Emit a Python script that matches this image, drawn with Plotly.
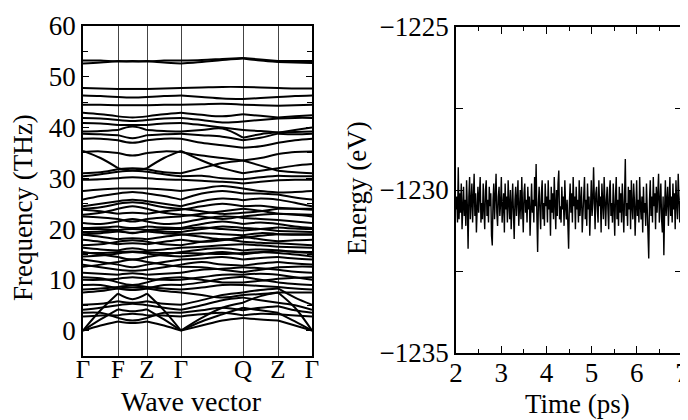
import numpy as np
import plotly.graph_objects as go

# ---------------- data ----------------
kpath_labels = ["Γ", "F", "Z", "Γ", "Q", "Z", "Γ"]
kpath_pos = [0, 35, 64, 98, 160, 195, 229]
# sampled k positions along the path (high-symmetry points + intermediate points)
k_samples = [0, 17.5, 35, 49.5, 64, 81, 98, 118.7, 139.3, 160, 177.5, 195, 212, 229]
# index ranges of path segments inside k_samples
segments = [(0, 2), (2, 4), (4, 6), (6, 9), (9, 11), (11, 13)]

acoustic_bands = [
    [0, 4.0, 7.3, 6.2, 7.3, 4.0, 0, 2.5, 4.5, 5.5, 6.8, 7.5, 4.5, 0],
    [0, 2.2, 4.2, 3.8, 4.2, 2.2, 0, 1.8, 3.2, 4.5, 4.0, 3.5, 1.8, 0],
    [0, 1.0, 1.8, 1.5, 1.8, 1.0, 0, 1.0, 2.0, 2.5, 2.2, 2.0, 1.0, 0],
]

optical_low = [
    [2.8, 3.0, 3.0, 3.3, 3.0, 3.0, 2.8, 3.2, 3.5, 3.0, 3.3, 3.2, 3.0, 2.8],
    [3.5, 3.5, 2.5, 2.0, 2.5, 3.5, 3.5, 4.0, 4.5, 4.0, 4.5, 4.8, 4.0, 3.5],
    [4.1, 4.5, 5.0, 5.3, 5.0, 4.5, 4.1, 5.0, 6.0, 6.5, 6.0, 5.5, 5.0, 4.1],
    [5.1, 5.3, 5.8, 5.5, 5.8, 5.3, 5.1, 6.0, 7.0, 7.5, 8.0, 8.3, 6.5, 5.1],
    [7.5, 7.8, 8.3, 8.5, 8.3, 7.8, 7.5, 7.0, 6.5, 7.0, 7.2, 7.5, 7.5, 7.5],
    [8.1, 8.3, 8.6, 8.9, 8.6, 8.3, 8.1, 8.5, 9.0, 9.0, 8.8, 8.6, 8.3, 8.1],
    [9.0, 9.0, 8.3, 8.0, 8.3, 9.0, 9.0, 9.5, 10.2, 10.6, 10.0, 9.5, 9.2, 9.0],
    [10.0, 10.0, 10.2, 10.5, 10.2, 10.0, 10.0, 10.5, 11.0, 11.0, 11.2, 11.0, 10.5, 10.0],
    [10.5, 10.3, 9.5, 9.0, 9.5, 10.3, 10.5, 10.0, 9.5, 9.5, 9.8, 10.2, 10.4, 10.5],
    [11.4, 11.2, 11.0, 11.3, 11.0, 11.2, 11.4, 12.0, 12.2, 12.5, 12.3, 12.0, 11.6, 11.4],
    [12.6, 13.0, 13.5, 14.0, 13.5, 13.0, 12.6, 12.5, 12.0, 11.5, 12.0, 12.5, 12.6, 12.6],
    [13.0, 12.5, 12.0, 11.8, 12.0, 12.5, 13.0, 13.5, 13.0, 12.8, 13.2, 13.5, 13.2, 13.0],
    [14.0, 13.5, 13.0, 12.5, 13.0, 13.5, 14.0, 14.2, 14.5, 14.0, 14.3, 14.5, 14.2, 14.0],
]

optical_mid = [
    [14.6, 14.8, 15.2, 15.5, 15.2, 14.8, 14.6, 15.0, 15.5, 15.0, 15.4, 15.3, 15.0, 14.6],
    [15.3, 15.3, 15.5, 15.6, 15.5, 15.3, 15.3, 15.2, 15.1, 15.3, 15.5, 15.8, 15.5, 15.3],
    [15.5, 15.0, 14.5, 14.0, 14.5, 15.0, 15.5, 16.0, 16.2, 15.8, 16.0, 15.8, 15.6, 15.5],
    [16.3, 16.0, 15.8, 16.2, 15.8, 16.0, 16.3, 16.5, 16.8, 17.0, 16.8, 16.5, 16.4, 16.3],
    [16.8, 17.0, 17.5, 17.8, 17.5, 17.0, 16.8, 17.5, 18.0, 17.5, 17.3, 17.2, 17.0, 16.8],
    [17.9, 17.5, 17.0, 17.2, 17.0, 17.5, 17.9, 17.5, 17.8, 18.5, 18.0, 17.6, 17.8, 17.9],
    [18.9, 18.5, 18.0, 18.2, 18.0, 18.5, 18.9, 19.2, 19.0, 18.8, 19.2, 19.0, 18.9, 18.9],
    [19.0, 19.2, 19.5, 19.3, 19.5, 19.2, 19.0, 18.5, 18.0, 18.3, 18.7, 19.0, 19.0, 19.0],
    [19.4, 19.5, 19.8, 20.0, 19.8, 19.5, 19.4, 20.0, 20.5, 20.2, 20.0, 19.6, 19.5, 19.4],
    [20.0, 20.0, 19.8, 19.2, 19.8, 20.0, 20.0, 20.3, 20.0, 19.7, 20.0, 20.3, 20.1, 20.0],
    [20.2, 20.3, 20.5, 20.2, 20.5, 20.3, 20.2, 21.0, 21.5, 21.0, 21.3, 21.0, 20.5, 20.2],
    [21.2, 21.0, 21.5, 22.0, 21.5, 21.0, 21.2, 22.0, 22.5, 22.2, 22.0, 21.8, 21.5, 21.2],
    [22.5, 22.3, 22.0, 21.5, 22.0, 22.3, 22.5, 23.0, 23.5, 24.0, 23.6, 23.0, 22.8, 22.5],
    [22.8, 23.2, 24.0, 24.5, 24.0, 23.2, 22.8, 22.5, 22.0, 22.5, 22.8, 23.0, 22.9, 22.8],
    [23.8, 23.5, 23.0, 23.2, 23.0, 23.5, 23.8, 24.5, 25.0, 24.5, 24.6, 24.2, 24.0, 23.8],
    [24.0, 24.3, 25.0, 25.3, 25.0, 24.3, 24.0, 23.5, 23.0, 23.2, 23.5, 24.0, 24.0, 24.0],
    [24.5, 25.0, 25.5, 25.8, 25.5, 25.0, 24.5, 25.5, 26.0, 25.7, 26.0, 25.8, 25.2, 24.5],
    [25.8, 26.5, 27.0, 27.3, 27.0, 26.5, 25.8, 27.0, 27.5, 27.0, 27.0, 26.8, 26.2, 25.8],
    [27.5, 27.8, 28.0, 28.0, 28.0, 27.8, 27.5, 28.0, 28.5, 28.0, 27.5, 27.2, 27.3, 27.5],
]

optical_high = [
    [29.7, 29.8, 30.0, 30.2, 30.0, 29.8, 29.7, 29.5, 29.3, 29.0, 29.3, 29.6, 29.7, 29.7],
    [30.4, 30.8, 31.3, 31.5, 31.3, 30.8, 30.4, 30.5, 30.0, 29.8, 30.2, 30.5, 30.4, 30.4],
    [31.0, 31.2, 31.8, 32.0, 31.8, 31.2, 31.0, 32.0, 33.0, 33.5, 32.5, 31.5, 31.2, 31.0],
    [35.4, 34.0, 32.0, 31.6, 32.0, 34.0, 35.4, 33.5, 32.0, 31.0, 31.5, 32.0, 32.5, 32.8],
    [35.2, 35.3, 35.0, 34.5, 35.0, 35.3, 35.2, 34.5, 34.0, 33.5, 34.0, 34.8, 35.2, 35.3],
    [37.8, 37.8, 37.5, 37.0, 37.5, 37.8, 37.8, 37.0, 36.5, 36.0, 36.3, 37.0, 37.5, 37.8],
    [38.8, 38.7, 38.5, 37.9, 38.5, 38.7, 38.8, 38.5, 38.2, 37.5, 38.0, 38.8, 38.7, 38.8],
    [39.2, 39.3, 39.5, 40.2, 39.5, 39.3, 39.2, 39.5, 39.8, 38.0, 38.7, 39.0, 39.1, 39.2],
    [40.9, 40.8, 40.5, 40.5, 40.5, 40.8, 40.9, 40.5, 40.0, 39.5, 39.3, 39.0, 39.5, 40.0],
    [41.9, 41.8, 41.5, 41.3, 41.5, 41.8, 41.9, 41.5, 41.0, 41.2, 41.5, 41.8, 41.9, 41.9],
    [42.9, 42.6, 42.2, 42.0, 42.2, 42.6, 42.9, 42.5, 42.2, 42.6, 42.3, 42.0, 42.2, 42.4],
    [44.5, 44.5, 44.4, 44.4, 44.4, 44.5, 44.5, 44.6, 44.7, 44.5, 44.4, 44.3, 44.4, 44.5],
    [46.3, 46.2, 46.0, 45.9, 46.0, 46.2, 46.3, 46.0, 45.7, 45.6, 45.8, 46.0, 46.2, 46.3],
    [47.8, 47.7, 47.6, 47.6, 47.6, 47.7, 47.8, 47.9, 48.0, 48.0, 47.9, 47.8, 47.7, 47.7],
    [52.6, 52.8, 53.1, 53.0, 53.1, 52.8, 52.6, 52.9, 53.3, 53.6, 53.2, 52.9, 52.8, 52.7],
    [53.2, 53.2, 53.0, 53.1, 53.0, 53.2, 53.2, 53.3, 53.5, 53.7, 53.4, 53.1, 53.1, 53.1],
]

time_start, time_end = 2.0, 7.0
energy = [
    -1230.6, -1230.2, -1231.0, -1229.3, -1230.9, -1230.1, -1230.7, -1229.8, -1231.2, -1230.4,
    -1229.9, -1230.8, -1230.3, -1231.1, -1229.7, -1230.5, -1231.8, -1230.2, -1229.6, -1230.9,
    -1230.4, -1229.8, -1231.0, -1230.3, -1229.5, -1230.8, -1230.1, -1231.3, -1230.5, -1229.9,
    -1230.7, -1230.2, -1229.6, -1231.0, -1230.4, -1230.9, -1229.8, -1230.6, -1231.2, -1230.0,
    -1229.7, -1230.8, -1230.3, -1231.0, -1229.9, -1230.5, -1230.1, -1231.4, -1231.7, -1230.3,
    -1229.8, -1230.9, -1230.4, -1229.5, -1230.7, -1231.1, -1230.2, -1229.9, -1230.8, -1230.4,
    -1229.6, -1231.0, -1230.5, -1230.1, -1231.3, -1229.8, -1230.6, -1230.2, -1231.0, -1229.7,
    -1230.4, -1230.9, -1230.0, -1231.2, -1230.5, -1229.8, -1230.7, -1231.5, -1230.3, -1229.9,
    -1230.8, -1230.2, -1229.7, -1231.1, -1230.4, -1230.0, -1230.9, -1229.6, -1230.5, -1231.3,
    -1230.1, -1229.8, -1230.7, -1230.3, -1231.0, -1229.9, -1230.6, -1230.2, -1231.4, -1230.0,
    -1229.8, -1230.7, -1230.3, -1231.0, -1229.6, -1230.5, -1229.2, -1230.8, -1231.9, -1230.4,
    -1229.9, -1230.6, -1231.2, -1230.1, -1229.7, -1230.9, -1230.4, -1231.1, -1229.8, -1230.5,
    -1230.2, -1231.0, -1229.7, -1230.6, -1230.3, -1231.4, -1229.9, -1230.7, -1230.1, -1230.9,
    -1229.6, -1230.4, -1231.2, -1230.0, -1230.8, -1229.8, -1229.4, -1230.9, -1230.5, -1231.0,
    -1229.9, -1230.6, -1230.2, -1231.1, -1229.7, -1230.5, -1230.9, -1230.3, -1231.3, -1231.8,
    -1230.4, -1229.8, -1230.7, -1230.1, -1231.0, -1229.6, -1230.5, -1230.2, -1231.2, -1229.9,
    -1230.6, -1230.3, -1231.0, -1229.7, -1230.8, -1230.4, -1229.9, -1231.3, -1230.5, -1230.1,
    -1229.6, -1230.9, -1230.3, -1231.1, -1229.8, -1230.6, -1230.2, -1231.4, -1230.0, -1229.7,
    -1230.8, -1230.4, -1229.3, -1230.7, -1231.2, -1230.1, -1229.9, -1230.6, -1231.0, -1229.7,
    -1230.5, -1230.2, -1231.3, -1229.8, -1230.4, -1230.9, -1229.6, -1230.7, -1231.1, -1230.3,
    -1229.9, -1230.6, -1231.2, -1230.0, -1229.7, -1230.8, -1230.4, -1231.0, -1229.8, -1230.5,
    -1231.4, -1230.2, -1229.6, -1230.9, -1230.3, -1231.1, -1229.9, -1230.7, -1230.1, -1231.0,
    -1229.8, -1230.5, -1231.3, -1230.2, -1229.05, -1230.8, -1230.4, -1231.1, -1229.9, -1230.6,
    -1230.0, -1231.2, -1229.7, -1230.5, -1230.9, -1229.8, -1230.3, -1231.4, -1230.1, -1229.7,
    -1230.8, -1230.3, -1231.0, -1229.6, -1230.5, -1230.9, -1230.2, -1231.3, -1229.9, -1230.7,
    -1230.4, -1231.1, -1229.8, -1230.6, -1231.5, -1232.1, -1230.3, -1229.7, -1230.8, -1230.2,
    -1231.0, -1229.6, -1230.5, -1230.1, -1231.2, -1229.9, -1230.7, -1230.3, -1229.5, -1231.0,
    -1230.4, -1229.8, -1230.9, -1231.3, -1230.2, -1232.0, -1230.6, -1229.7, -1230.8, -1230.4,
    -1229.9, -1231.1, -1230.5, -1229.6, -1230.8, -1230.2, -1231.0, -1229.8, -1230.6, -1230.1,
    -1231.2, -1229.7, -1230.4, -1230.9, -1229.5, -1230.7, -1231.0, -1230.3, -1229.8, -1230.6,
]

# ---------------- figure ----------------
FONT = "Liberation Serif"
# the page body has an 8 px margin; layout positions are given in window pixels
OFF = 8
W, H = 688 - OFF, 420 - OFF


def xp(px):
    return (px - OFF) / W


def yp(py):
    return 1 - (py - OFF) / H


fig = go.Figure()

all_bands = acoustic_bands + optical_low + optical_mid + optical_high
for band in all_bands:
    xs, ys = [], []
    for a, b in segments:
        xs += k_samples[a:b + 1] + [None]
        ys += band[a:b + 1] + [None]
    fig.add_trace(go.Scatter(
        x=xs, y=ys, mode="lines", xaxis="x", yaxis="y",
        line=dict(color="black", width=2.0, shape="spline", smoothing=1.0),
        connectgaps=False, showlegend=False, hoverinfo="skip"))

times = np.linspace(time_start, time_end, len(energy))
fig.add_trace(go.Scatter(
    x=times, y=energy, mode="lines", xaxis="x2", yaxis="y2",
    line=dict(color="black", width=1.4), showlegend=False))

TICK_SIZE = 27
TITLE_SIZE = 27
axis_common = dict(showline=True, linecolor="black", linewidth=1.5, zeroline=False,
                   automargin=False, ticklabeloverflow="allow")


def tfont(size):
    return dict(family=FONT, size=size, color="black")


def title_ann(text, x, y, size, angle=0):
    return dict(text=text, x=xp(x), y=yp(y), xref="paper", yref="paper",
                xanchor="center", yanchor="middle", textangle=angle, showarrow=False,
                font=tfont(size))


fig.update_layout(
    template="none",
    width=W, height=H,
    margin=dict(l=0, r=0, t=0, b=0, pad=0),
    paper_bgcolor="white", plot_bgcolor="white",
    font=dict(family=FONT, color="black"),
    xaxis=dict(domain=[xp(83), xp(312)], range=[0, 229], tickvals=kpath_pos,
               ticktext=kpath_labels, ticks="", mirror=True, showgrid=True,
               gridcolor="#444444", gridwidth=1, anchor="y", ticklabelstandoff=-10,
               tickfont=tfont(TICK_SIZE - 2), **axis_common),
    yaxis=dict(domain=[yp(356), yp(26)], range=[-5, 60],
               tickvals=[0, 10, 20, 30, 40, 50, 60], ticks="inside", ticklen=6,
               tickcolor="black", mirror="ticks", showgrid=False, anchor="x",
               tickfont=tfont(TICK_SIZE),
               minor=dict(tickvals=[-5, 5, 15, 25, 35, 45, 55], ticks="inside", ticklen=5,
                          tickcolor="black", showgrid=False),
               **axis_common),
    xaxis2=dict(domain=[xp(456), xp(682)], range=[2, 7], tickvals=[2, 3, 4, 5, 6, 7],
                ticks="inside", ticklen=7, tickcolor="black", mirror="ticks",
                showgrid=False, anchor="y2", ticklabelstandoff=-5,
                tickfont=tfont(TICK_SIZE),
                minor=dict(tickvals=[2.5, 3.5, 4.5, 5.5, 6.5], ticks="inside", ticklen=4,
                           tickcolor="black", showgrid=False),
                **axis_common),
    yaxis2=dict(domain=[yp(353), yp(27)], range=[-1235, -1225],
                tickvals=[-1235, -1230, -1225], ticks="inside", ticklen=7,
                tickcolor="black", mirror="ticks", showgrid=False, anchor="x2",
                tickfont=tfont(TICK_SIZE),
                minor=dict(tickvals=[-1232.5, -1227.5], ticks="inside", ticklen=7,
                           tickcolor="black", showgrid=False),
                **axis_common),
    annotations=[
        title_ann("Frequency (THz)", 23, 208, TITLE_SIZE, -90),
        title_ann("Wave vector", 191, 401, TITLE_SIZE + 1),
        title_ann("Energy (eV)", 357, 188, TITLE_SIZE, -90),
        title_ann("Time (ps)", 577, 404, TITLE_SIZE),
    ],
)

fig.write_html("out.html")
